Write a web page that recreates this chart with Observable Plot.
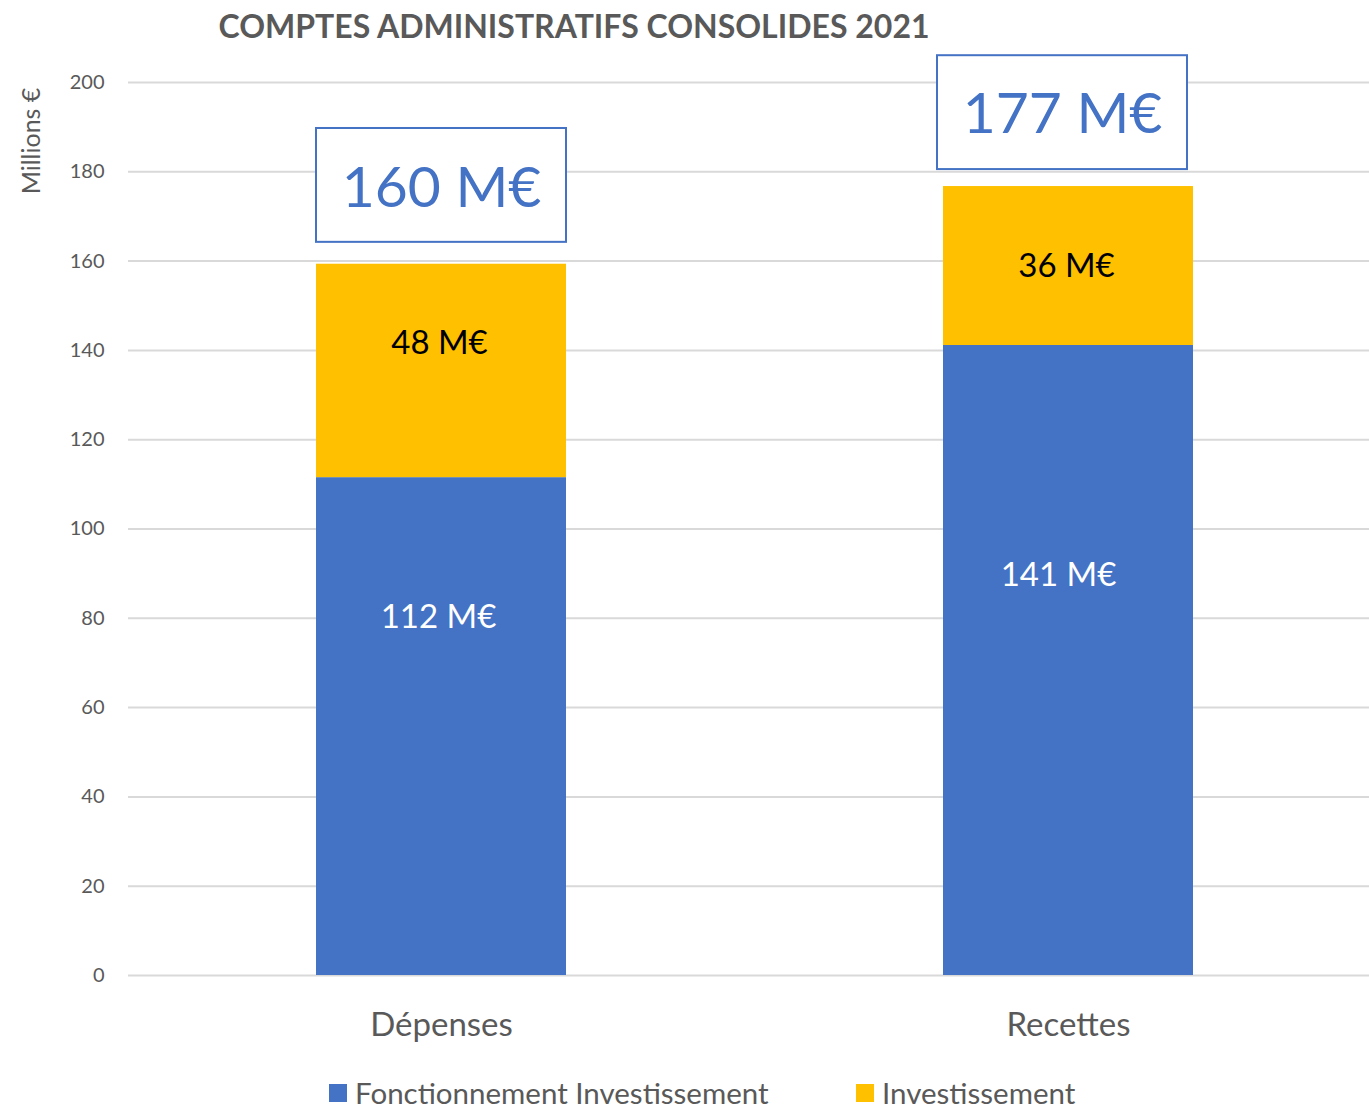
<!DOCTYPE html>
<html>
<head>
<meta charset="utf-8">
<script src="https://cdn.jsdelivr.net/npm/d3@7"></script>
<script src="https://cdn.jsdelivr.net/npm/@observablehq/plot@0.6"></script>
<style>
  html, body { margin: 0; padding: 0; background: #fff; }
  #wrap { position: relative; width: 1369px; height: 1110px; font-family: Lato, "Open Sans", sans-serif; overflow: hidden; }
  #title { position: absolute; left: 0; width: 1148px; top: 6px; text-align: center; font-weight: 700; font-size: 32px; color: #595959; white-space: nowrap; }
  #ylabel { position: absolute; left: 30px; top: 141px; transform: translate(-50%, -50%) rotate(-90deg); font-size: 25px; color: #595959; white-space: nowrap; }
  #legend { position: absolute; top: 0; left: 0; font-size: 29.5px; color: #595959; white-space: nowrap; }
  .item { position: absolute; top: 1076px; display: flex; align-items: center; gap: 8px; line-height: 34px; }
  .sw { width: 18px; height: 18px; display: inline-block; }
  #chart { position: absolute; left: 0; top: 0; }
</style>
</head>
<body>
<div id="wrap">
  <div id="chart"></div>
  <div id="title"></div>
  <div id="ylabel"></div>
  <div id="legend"></div>
</div>
<script>
// ---- data ----
const categories = ["Dépenses", "Recettes"];
const series = ["Fonctionnement Investissement", "Investissement"];
const fonctionnement = [111.5, 141.1];
const investissement = [47.8, 35.6];
const fonctLabels = ["112 M€", "141 M€"];
const investLabels = ["48 M€", "36 M€"];
const totalLabels = ["160 M€", "177 M€"];
// label positions (in millions €)
const fonctLabelY = [80.2, 89.6];
const investLabelY = [141.5, 158.8];
const totalLabelY = [176.3, 192.8];
const boxBottom = [164.2, 180.5];
const boxTop = [189.7, 206.0];
const yTicks = [0, 20, 40, 60, 80, 100, 120, 140, 160, 180, 200];
const colors = ["#4472C4", "#FFC000"];
const titleText = "COMPTES ADMINISTRATIFS CONSOLIDES 2021";
const yLabelText = "Millions €";

// ---- tables ----
const rows = [];
categories.forEach((c, i) => {
  rows.push({cat: c, series: series[0], value: fonctionnement[i]});
  rows.push({cat: c, series: series[1], value: investissement[i]});
});
const fLab = categories.map((c, i) => ({cat: c, y: fonctLabelY[i], text: fonctLabels[i]}));
const iLab = categories.map((c, i) => ({cat: c, y: investLabelY[i], text: investLabels[i]}));
const tLab = categories.map((c, i) => ({cat: c, y: totalLabelY[i], y1: boxBottom[i], y2: boxTop[i], text: totalLabels[i]}));
const isDep = d => d.cat === categories[0];
const isRec = d => d.cat === categories[1];

const chart = Plot.plot({
  width: 1369,
  height: 1110,
  marginTop: 82,
  marginBottom: 135,
  marginLeft: 128,
  marginRight: 0,
  style: {fontFamily: "Lato, 'Open Sans', sans-serif", background: "transparent", overflow: "visible"},
  x: {domain: categories, paddingInner: 0.601, paddingOuter: 0.29, align: 0.517, label: null},
  y: {domain: [0, 200], label: null},
  color: {domain: series, range: colors},
  marks: [
    Plot.gridY(yTicks, {stroke: "#d9d9d9", strokeOpacity: 1, strokeWidth: 2}),
    Plot.axisY(yTicks, {tickSize: 0, tickPadding: 24, fontSize: 20, color: "#595959", label: null}),
    Plot.axisX({tickSize: 0, tickPadding: 37, fontSize: 33, color: "#595959", label: null}),
    Plot.barY(rows, {x: "cat", y: "value", fill: "series"}),
    Plot.text(fLab, {filter: isDep, x: "cat", y: "y", text: "text", fill: "white", fontSize: 33, dx: -3}),
    Plot.text(fLab, {filter: isRec, x: "cat", y: "y", text: "text", fill: "white", fontSize: 33, dx: -10}),
    Plot.text(iLab, {x: "cat", y: "y", text: "text", fill: "black", fontSize: 33, dx: -2}),
    Plot.barY(tLab, {filter: isDep, x: "cat", y1: "y1", y2: "y2", fill: "white", stroke: "#4472C4", strokeWidth: 2}),
    Plot.barY(tLab, {filter: isRec, x: "cat", y1: "y1", y2: "y2", fill: "white", stroke: "#4472C4", strokeWidth: 2, dx: -6}),
    Plot.text(tLab, {filter: isDep, x: "cat", y: "y", text: "text", fill: "#4472C4", fontSize: 57}),
    Plot.text(tLab, {filter: isRec, x: "cat", y: "y", text: "text", fill: "#4472C4", fontSize: 57, dx: -6})
  ]
});
document.getElementById("chart").appendChild(chart);

document.getElementById("title").textContent = titleText;
document.getElementById("ylabel").textContent = yLabelText;
const legend = document.getElementById("legend");
const legendLeft = [329, 856];
series.forEach((s, i) => {
  const item = document.createElement("div");
  item.className = "item";
  item.style.left = legendLeft[i] + "px";
  const sw = document.createElement("span");
  sw.className = "sw";
  sw.style.background = colors[i];
  const t = document.createElement("span");
  t.textContent = s;
  item.appendChild(sw);
  item.appendChild(t);
  legend.appendChild(item);
});
</script>
</body>
</html>
